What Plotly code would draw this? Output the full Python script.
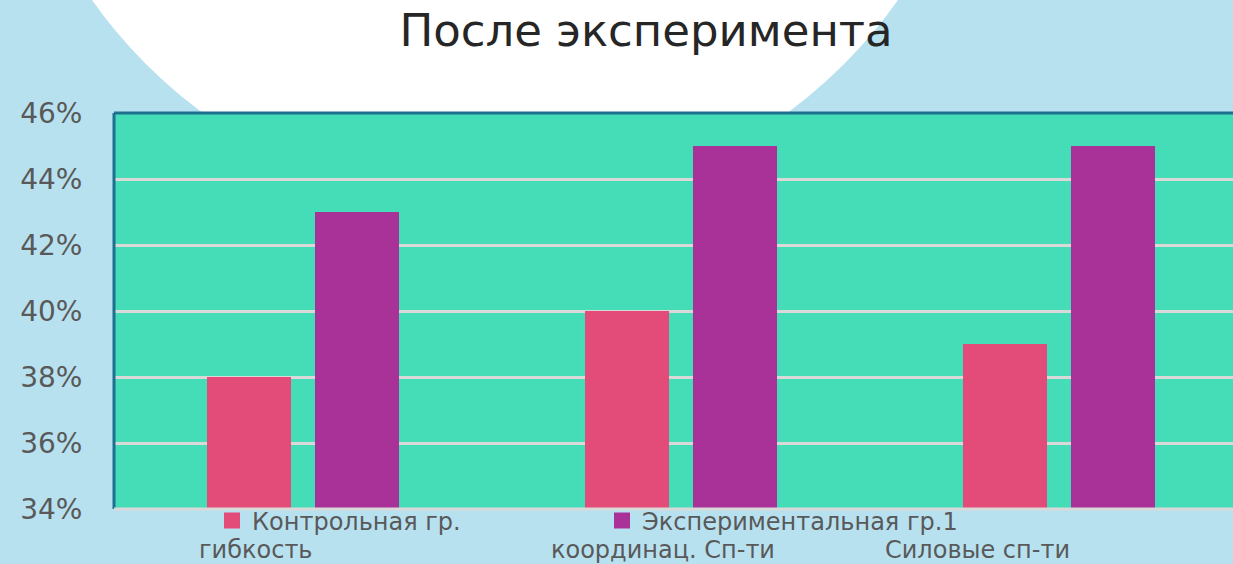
import plotly.graph_objects as go

categories = ["гибкость", "координац. Сп-ти", "Силовые сп-ти"]
control = [38, 40, 39]
experimental = [43, 45, 45]
series_names = ["Контрольная гр.", "Экспериментальная гр.1"]
y_ticks = [34, 36, 38, 40, 42, 44, 46]
y_tick_labels = ["34%", "36%", "38%", "40%", "42%", "44%", "46%"]

PINK = "#E34B79"
PURPLE = "#A93299"
PLOT_BG = "#44DDB8"
BG = "#B8E1F0"
TXT = "#595959"
FONT = "DejaVu Sans"

fig = go.Figure()
fig.add_trace(go.Bar(x=categories, y=control, marker=dict(color=PINK, line=dict(width=0)),
                     name=series_names[0], showlegend=False))
fig.add_trace(go.Bar(x=categories, y=experimental, marker=dict(color=PURPLE, line=dict(width=0)),
                     name=series_names[1], showlegend=False))
# legend-only entries with square symbols
for nm, col in zip(series_names, [PINK, PURPLE]):
    fig.add_trace(go.Scatter(x=[None], y=[None], mode="markers", name=nm,
                             marker=dict(symbol="square", size=20, color=col)))

W, H = 1233, 564
L, T, B = 114, 113, 55
plot_w = W - L
plot_h = H - T - B
cat_px = 378
x_max = -0.5 + plot_w / cat_px

shapes = [
    # white circle decoration behind title
    dict(type="circle", xref="paper", yref="paper", layer="below",
         x0=(2 - L) / plot_w, x1=(988 - L) / plot_w,
         y0=1 + (T - 209) / plot_h, y1=1 + (T + 777) / plot_h,
         fillcolor="white", line=dict(width=0)),
    # plot area background
    dict(type="rect", xref="paper", yref="paper", layer="below",
         x0=0, x1=1, y0=0, y1=1, fillcolor=PLOT_BG, line=dict(width=0)),
    # top border
    dict(type="line", xref="paper", yref="paper", x0=0, x1=1, y0=1, y1=1,
         line=dict(color="#1F6F8F", width=3)),
    # left border
    dict(type="line", xref="paper", yref="paper", x0=0, x1=0, y0=0, y1=1,
         line=dict(color="#1F6F8F", width=3)),
    # bottom axis line
    dict(type="line", xref="paper", yref="paper", x0=0, x1=1, y0=0, y1=0,
         line=dict(color="#D9D9D9", width=3)),
]

label_shift = [-47, -18, -82]
annotations = []
for c, s in zip(categories, label_shift):
    annotations.append(dict(x=c, xref="x", y=-(550 - (H - B)) / plot_h, yref="paper",
                            text=c, showarrow=False, xshift=s, yanchor="middle",
                            font=dict(family=FONT, size=24, color=TXT)))

fig.update_layout(
    width=W, height=H,
    margin=dict(l=L, r=0, t=T, b=B, pad=0),
    paper_bgcolor=BG,
    plot_bgcolor="rgba(0,0,0,0)",
    barmode="group", bargap=0.4286, bargroupgap=0.222,
    title=dict(text="После эксперимента", x=646 / W, xanchor="center",
               y=1 - 30 / H, yanchor="middle", yref="container",
               font=dict(family=FONT, size=45, color="#262626")),
    xaxis=dict(range=[-0.5, x_max], showticklabels=False, showgrid=False,
               zeroline=False, showline=False, ticks=""),
    yaxis=dict(range=[34, 46], tickvals=y_ticks, ticktext=y_tick_labels,
               showgrid=True, gridcolor="#D9D9D9", gridwidth=3, zeroline=False,
               showline=False, ticks="outside", ticklen=25,
               tickcolor="rgba(0,0,0,0)",
               tickfont=dict(family=FONT, size=28, color=TXT)),
    legend=dict(orientation="h", x=(212 - L) / plot_w, xanchor="left",
                y=-(521 - (H - B)) / plot_h, yanchor="middle",
                bgcolor="rgba(0,0,0,0)", entrywidth=345, itemwidth=30,
                font=dict(family=FONT, size=24, color=TXT), tracegroupgap=0),
    shapes=shapes,
    annotations=annotations,
)

fig.write_html("out.html", config={"displayModeBar": False},
               post_script="document.body.style.margin='0';document.body.style.overflow='hidden';")
